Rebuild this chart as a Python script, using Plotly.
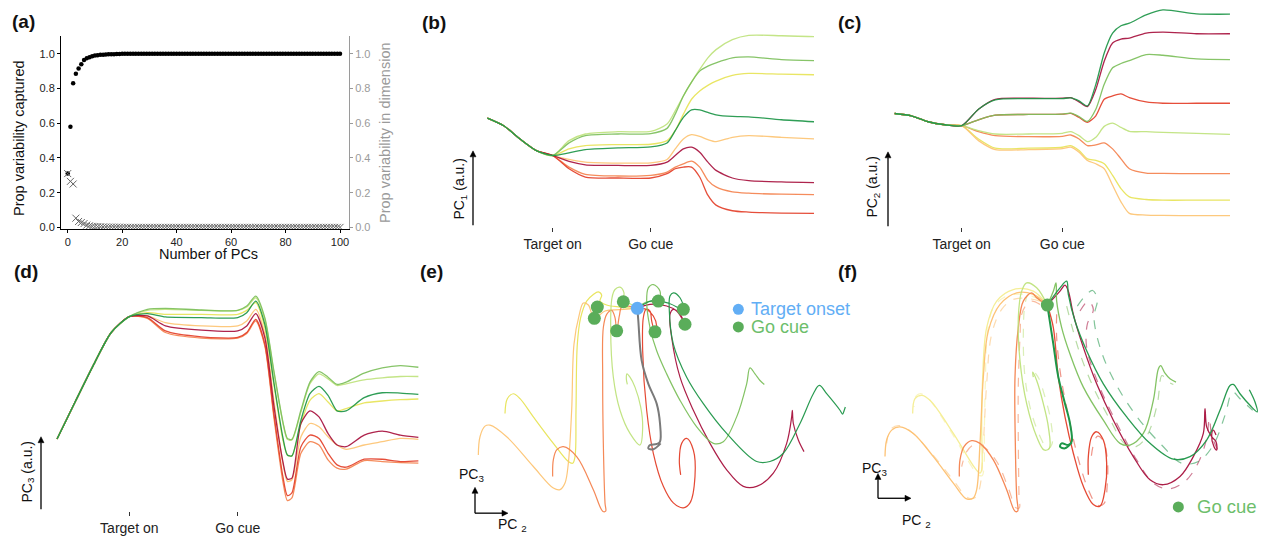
import plotly.graph_objects as go

W, H = 1262, 539
FONT = "Liberation Sans, Arial, Helvetica, sans-serif"

# ---------------- (a) variance explained ----------------
pc_index = list(range(101))
cum_var = [0.31, 0.58, 0.83, 0.885, 0.915, 0.94, 0.965, 0.974, 0.981, 0.986,
           0.99, 0.992, 0.994, 0.995, 0.996, 0.997, 0.998, 0.998, 0.999, 0.999] + [1.0] * 81
ind_var = [0.31, 0.265, 0.25, 0.053, 0.034, 0.028, 0.022, 0.013, 0.009, 0.006,
           0.005, 0.004, 0.003, 0.002, 0.002, 0.001, 0.001, 0.001, 0.001, 0.001] + [0.0] * 81
a_xticks = [0, 20, 40, 60, 80, 100]
a_yticks = [0.0, 0.2, 0.4, 0.6, 0.8, 1.0]

# ---------------- conditions / colours ----------------
CONDS = ["dark_red", "red", "orange", "light_orange", "yellow", "yellow_green", "green", "dark_green"]
COLORS = {"dark_red": "#a8123e", "red": "#e4402a", "orange": "#f5834f", "light_orange": "#fdc574",
          "yellow": "#e8e457", "yellow_green": "#bfe37d", "green": "#7dc05c", "dark_green": "#1e9648"}
COLORS_F = dict(COLORS, yellow="#f5ee92", light_orange="#fdc070")
time_ticks = [0, 600]
time_ticktext = ["Target on", "Go cue"]

# ---------------- (b) PC1 over time ----------------
b_time = [-400, -300, -200, -100, 0, 100, 200, 400, 600, 700, 750, 800, 850, 900, 950, 1000, 1100, 1200, 1400, 1600]
b_common = [343, 320, 280, 245, 230]
b_curves = {
    "yellow_green": [275, 295, 302, 303, 325, 365, 410, 452, 490, 525, 550, 580, 593, 592, 589],
    "green":        [268, 290, 295, 296, 312, 355, 410, 452, 485, 500, 510, 525, 528, 520, 517],
    "yellow":       [250, 260, 263, 264, 275, 305, 355, 400, 425, 442, 455, 472, 478, 476, 474],
    "dark_green":   [238, 248, 253, 256, 268, 305, 345, 368, 368, 360, 353, 348, 347, 338, 332],
    "light_orange": [218, 210, 207, 208, 218, 250, 280, 293, 288, 278, 272, 285, 290, 285, 280],
    "dark_red":     [212, 202, 200, 200, 210, 230, 250, 255, 240, 210, 185, 162, 154, 150, 148],
    "orange":       [195, 173, 168, 170, 180, 195, 205, 213, 195, 155, 135, 120, 116, 113, 112],
    "red":          [190, 165, 162, 162, 175, 190, 195, 195, 165, 110, 80, 63, 59, 56, 55],
}

# ---------------- (c) PC2 over time ----------------
c_time = [-400, -300, -200, -100, 0, 100, 200, 400, 600, 650, 700, 750, 800, 850, 900, 950, 1000, 1100, 1200, 1400, 1600]
c_common = [357, 350, 332, 323, 320]
c_curves = {
    "dark_green":   [370, 398, 402, 402, 404, 395, 380, 445, 540, 600, 622, 630, 655, 670, 658, 657],
    "dark_red":     [370, 400, 403, 403, 405, 392, 378, 430, 515, 570, 582, 585, 600, 603, 598, 598],
    "green":        [338, 352, 354, 355, 358, 348, 333, 370, 445, 495, 508, 517, 535, 533, 522, 520],
    "red":          [338, 352, 354, 355, 357, 345, 330, 350, 400, 410, 416, 405, 392, 388, 388, 388],
    "yellow_green": [305, 295, 295, 297, 302, 290, 272, 285, 318, 328, 315, 303, 302, 300, 297, 294],
    "orange":       [302, 290, 287, 288, 292, 280, 260, 262, 268, 250, 220, 190, 177, 176, 175, 175],
    "yellow":       [280, 252, 252, 255, 260, 245, 220, 215, 205, 170, 130, 105, 97, 95, 95, 95],
    "light_orange": [275, 248, 248, 251, 255, 240, 215, 205, 190, 140, 90, 55, 50, 49, 48, 48],
}

# ---------------- (d) PC3 over time ----------------
d_time = [-400, -300, -200, -100, 0, 100, 200, 400, 600, 650, 700, 750, 800, 850, 875, 900, 950, 1000,
          1050, 1100, 1150, 1200, 1300, 1400, 1500, 1600]
d_common = [283, 395, 505, 605, 653]
d_curves = {
    "green":        [675, 678, 673, 672, 685, 715, 650, 490, 335, 285, 282, 370, 455, 487, 470, 448, 455, 482, 498, 505, 500],
    "yellow_green": [672, 675, 672, 672, 682, 710, 645, 485, 332, 282, 280, 365, 450, 480, 465, 445, 450, 462, 468, 472, 472],
    "yellow":       [665, 660, 660, 660, 672, 695, 620, 450, 280, 235, 232, 330, 400, 420, 395, 368, 375, 392, 398, 402, 404],
    "dark_green":   [662, 652, 650, 650, 665, 700, 630, 455, 288, 235, 232, 340, 420, 442, 415, 368, 368, 408, 423, 422, 418],
    "light_orange": [655, 635, 625, 625, 640, 675, 600, 400, 210, 155, 160, 290, 330, 320, 290, 265, 252, 265, 275, 285, 282],
    "dark_red":     [655, 625, 612, 610, 625, 662, 590, 385, 215, 162, 165, 330, 368, 350, 300, 265, 260, 295, 307, 295, 288],
    "red":          [650, 610, 592, 590, 605, 645, 570, 360, 170, 112, 120, 260, 295, 285, 240, 205, 198, 222, 222, 215, 217],
    "orange":       [648, 605, 588, 588, 602, 640, 565, 350, 155, 97, 105, 240, 275, 265, 220, 195, 192, 218, 215, 212, 210],
}

# ---------------- (e) PC2-PC3 trajectories (PC2, PC3 with PC3 axis reversed) ----------------
e_target = [(652, 122)]
e_gocue = [(532, 118), (523, 152), (610, 102), (590, 190), (715, 100), (705, 193), (790, 125), (795, 170)]
e_traj = {
    "yellow": [(652, 122), (600, 118), (560, 112), (540, 100), (545, 82), (535, 72), (520, 80), (500, 100), (482, 150),
               (472, 230), (468, 430), (465, 570), (458, 590), (445, 585), (400, 530), (340, 450), (300, 395),
               (280, 380), (262, 395), (255, 440)],
    "light_orange": [(652, 122), (600, 126), (555, 130), (523, 152), (505, 112), (490, 106), (478, 140), (462, 230),
                     (455, 430), (445, 590), (435, 650), (420, 670), (400, 665), (340, 600), (260, 510), (210, 475),
                     (195, 478), (180, 510), (175, 565)],
    "orange": [(652, 122), (625, 115), (605, 118), (598, 145), (590, 190), (585, 150), (575, 128), (560, 140), (550, 180),
               (548, 330), (550, 530), (555, 710), (557, 735), (548, 735), (520, 670), (470, 570), (430, 540),
               (410, 550), (400, 580), (398, 630)],
    "yellow_green": [(652, 122), (630, 108), (610, 102), (612, 75), (600, 58), (585, 65), (576, 90), (572, 180),
                     (580, 330), (600, 430), (630, 500), (660, 535), (668, 480), (662, 420), (645, 360), (630, 330),
                     (621, 320), (619, 335), (622, 352)],
    "red": [(652, 122), (680, 125), (700, 145), (710, 175), (705, 193), (695, 160), (690, 130), (678, 125), (670, 150),
            (668, 250), (680, 430), (700, 560), (730, 660), (760, 710), (790, 725), (810, 710), (825, 630), (820, 550),
            (800, 515), (785, 530), (778, 580), (782, 625)],
    "green": [(652, 122), (680, 102), (715, 100), (720, 70), (700, 50), (685, 60), (680, 100), (690, 180), (710, 250),
              (740, 320), (780, 400), (830, 480), (880, 530), (910, 525), (950, 450), (980, 350), (990, 302),
              (1005, 320), (1020, 340), (1033, 352)],
    "dark_green": [(652, 122), (700, 98), (750, 108), (790, 125), (780, 90), (760, 75), (750, 85), (748, 130),
                   (760, 230), (800, 330), (850, 410), (920, 500), (1010, 585), (1050, 585), (1090, 560), (1140, 470),
                   (1180, 380), (1198, 355), (1220, 380), (1260, 430), (1268, 442), (1272, 432), (1276, 420)],
    "dark_red": [(652, 122), (690, 110), (740, 115), (770, 130), (790, 160), (795, 170), (780, 140), (760, 125),
                 (750, 140), (755, 210), (780, 330), (820, 430), (870, 530), (920, 610), (970, 660), (1010, 660),
                 (1060, 620), (1100, 530), (1115, 450), (1117, 430), (1120, 470), (1135, 520), (1152, 555)],
}
e_null = [(652, 122), (655, 160), (665, 280), (685, 350), (710, 410), (720, 470), (720, 525), (710, 532), (690, 535),
          (685, 545), (700, 548), (722, 530)]
e_legend = [(955, 125), (955, 178)]

# ---------------- (f) PC2-PC3 trajectories aligned to go cue ----------------
f_gocue = [(622, 112)]
f_traj = {
    "yellow": [(622, 112), (580, 70), (520, 65), (470, 100), (440, 180), (428, 330), (425, 480), (425, 610), (420, 620),
               (405, 605), (340, 500), (270, 400), (245, 385), (225, 395), (218, 440)],
    "light_orange": [(622, 112), (580, 80), (530, 75), (480, 110), (445, 190), (430, 330), (420, 530), (410, 670),
                     (400, 695), (380, 698), (340, 650), (280, 570), (220, 500), (180, 480), (155, 490), (140, 520),
                     (135, 570)],
    "orange": [(622, 112), (590, 90), (575, 75), (550, 100), (535, 180), (525, 330), (526, 530), (530, 690), (533, 735),
               (525, 735), (500, 670), (460, 580), (420, 530), (395, 522), (372, 540), (360, 580), (358, 630)],
    "yellow_green": [(622, 112), (590, 60), (560, 45), (545, 70), (535, 150), (540, 280), (560, 410), (590, 510),
                     (612, 550), (628, 545), (625, 480), (610, 410), (590, 340), (578, 315), (580, 330)],
    "red": [(622, 112), (640, 180), (655, 330), (675, 450), (700, 560), (730, 660), (760, 715), (780, 720), (795, 670),
            (800, 590), (790, 520), (770, 495), (755, 510), (745, 570), (745, 625)],
    "green": [(622, 112), (640, 70), (648, 45), (650, 100), (665, 180), (690, 260), (730, 360), (790, 460), (840, 530),
              (870, 535), (910, 500), (940, 400), (955, 305), (962, 295), (975, 318), (990, 335), (1008, 345)],
    "dark_green": [(622, 112), (660, 60), (680, 40), (685, 80), (705, 160), (740, 250), (790, 350), (860, 450),
                   (930, 530), (1000, 578), (1050, 570), (1100, 520), (1140, 430), (1170, 355), (1180, 352),
                   (1200, 380), (1230, 415), (1252, 435), (1245, 405), (1228, 368)],
    "dark_red": [(622, 112), (660, 70), (675, 52), (685, 70), (700, 140), (730, 240), (770, 350), (820, 460), (880, 570),
                 (930, 640), (970, 655), (1020, 630), (1060, 570), (1090, 500), (1095, 425), (1100, 480), (1115, 510),
                 (1128, 525), (1130, 550), (1122, 540), (1115, 505), (1120, 490), (1128, 505)],
}
f_null = [(622, 112), (640, 230), (655, 330), (675, 410), (690, 470), (695, 525), (685, 535), (665, 530), (660, 540),
          (675, 545), (695, 528)]
f_dashed = {
    "yellow": [(600, 95), (555, 80), (500, 85), (460, 120), (442, 200), (436, 350), (433, 500), (432, 600), (426, 628),
               (410, 622), (395, 600), (330, 490), (265, 395), (240, 380), (225, 392), (222, 420)],
    "light_orange": [(600, 100), (560, 92), (520, 95), (485, 125), (455, 200), (440, 350), (430, 530), (420, 660),
                     (408, 692), (385, 695), (335, 635), (270, 555), (210, 492), (175, 476), (150, 490), (140, 530)],
    "orange": [(600, 110), (575, 100), (560, 110), (545, 140), (540, 210), (535, 350), (535, 530), (537, 690),
               (538, 725), (528, 725), (505, 665), (470, 585), (430, 540), (400, 535), (380, 555), (365, 600)],
    "yellow_green": [(610, 110), (585, 85), (565, 80), (555, 110), (550, 200), (555, 330), (575, 440), (605, 520),
                     (622, 548), (636, 532), (632, 460), (615, 390), (597, 335), (586, 318)],
    "red": [(650, 140), (650, 210), (663, 330), (686, 450), (713, 570), (745, 670), (772, 717), (792, 712), (802, 650),
            (802, 580), (790, 522), (773, 508), (760, 535), (752, 590)],
    "green": [(680, 115), (698, 185), (722, 265), (762, 365), (812, 462), (855, 532), (888, 540), (922, 505), (952, 410),
              (966, 325), (982, 342), (1000, 352)],
    "dark_green": [(712, 115), (735, 85), (758, 68), (772, 95), (762, 150), (785, 255), (830, 355), (895, 455),
                   (965, 535), (1025, 590), (1075, 585), (1120, 535), (1155, 445), (1178, 375), (1200, 395), (1238, 430)],
    "dark_red": [(720, 130), (745, 100), (760, 125), (742, 170), (740, 240), (775, 350), (828, 465), (890, 580),
                 (940, 650), (985, 668), (1035, 645), (1075, 588), (1100, 515), (1108, 455), (1115, 505), (1132, 548)],
}
f_legend = [(1015, 722)]

# ======================================================================
fig = go.Figure()


def X(pts):
    return [p[0] for p in pts]


def Y(pts):
    return [p[1] for p in pts]


# (a)
fig.add_trace(go.Scatter(x=pc_index, y=ind_var, mode="markers", xaxis="x", yaxis="y2",
                         marker=dict(symbol="x-thin", size=7, color="#666666", line=dict(width=1, color="#666666"))))
fig.add_trace(go.Scatter(x=pc_index, y=cum_var, mode="markers", xaxis="x", yaxis="y",
                         marker=dict(symbol="circle", size=4.5, color="black")))

DRAW_ORDER = ["yellow", "light_orange", "orange", "red", "dark_red", "yellow_green", "green", "dark_green"]


def time_panel(times, common, curves, xa, ya):
    for name in DRAW_ORDER:
        fig.add_trace(go.Scatter(x=times, y=common + curves[name], mode="lines", xaxis=xa, yaxis=ya,
                                 opacity=0.92,
                                 line=dict(color=COLORS[name], width=1.3, shape="spline", smoothing=0.7)))


time_panel(b_time, b_common, b_curves, "x3", "y3")
time_panel(c_time, c_common, c_curves, "x4", "y4")
time_panel(d_time, d_common, d_curves, "x5", "y5")

# (e)
for name in DRAW_ORDER:
    pts = e_traj[name]
    fig.add_trace(go.Scatter(x=X(pts), y=Y(pts), mode="lines", xaxis="x6", yaxis="y6", opacity=0.95,
                             line=dict(color=COLORS[name], width=1.2, shape="spline", smoothing=1.0)))
fig.add_trace(go.Scatter(x=X(e_null), y=Y(e_null), mode="lines", xaxis="x6", yaxis="y6",
                         line=dict(color="#7a7a7a", width=2, shape="spline", smoothing=1.0)))
fig.add_trace(go.Scatter(x=X(e_gocue), y=Y(e_gocue), mode="markers", xaxis="x6", yaxis="y6",
                         marker=dict(size=13, color="#5aad5a")))
fig.add_trace(go.Scatter(x=X(e_target), y=Y(e_target), mode="markers", xaxis="x6", yaxis="y6",
                         marker=dict(size=13, color="#62aef5")))
fig.add_trace(go.Scatter(x=X(e_legend), y=Y(e_legend), mode="markers", xaxis="x6", yaxis="y6",
                         marker=dict(size=11, color=["#62aef5", "#5aad5a"])))

# (f)
for name in DRAW_ORDER:
    pts = f_dashed[name]
    fig.add_trace(go.Scatter(x=X(pts), y=Y(pts), mode="lines", xaxis="x7", yaxis="y7", opacity=0.55,
                             line=dict(color=COLORS_F[name], width=1.2, dash="dash", shape="spline", smoothing=1.0)))
for name in DRAW_ORDER:
    pts = f_traj[name]
    fig.add_trace(go.Scatter(x=X(pts), y=Y(pts), mode="lines", xaxis="x7", yaxis="y7", opacity=0.95,
                             line=dict(color=COLORS_F[name], width=1.3, shape="spline", smoothing=1.0)))
fig.add_trace(go.Scatter(x=X(f_null), y=Y(f_null), mode="lines", xaxis="x7", yaxis="y7",
                         line=dict(color=COLORS["dark_green"], width=2, shape="spline", smoothing=1.0)))
fig.add_trace(go.Scatter(x=X(f_gocue), y=Y(f_gocue), mode="markers", xaxis="x7", yaxis="y7",
                         marker=dict(size=13, color="#5aad5a")))
fig.add_trace(go.Scatter(x=X(f_legend), y=Y(f_legend), mode="markers", xaxis="x7", yaxis="y7",
                         marker=dict(size=11, color="#5aad5a")))


# ---------------- layout helpers ----------------
def xd(a, b):
    return [a / W, b / W]


def yd(top, bottom):
    return [1 - bottom / H, 1 - top / H]


def trange(xl, xr, tgt_px, go_px):
    s = (go_px - tgt_px) / 600.0
    return [(xl - tgt_px) / s, (xr - tgt_px) / s]


def time_xaxis(xl, xr, tgt_px, go_px, anchor):
    return dict(domain=xd(xl, xr), range=trange(xl, xr, tgt_px, go_px), anchor=anchor, showline=False,
                showgrid=False, zeroline=False, ticks="outside", ticklen=4, tickcolor="#333", tickwidth=1,
                tickvals=time_ticks, ticktext=time_ticktext, tickfont=dict(size=14, color="#222"), fixedrange=True)


def hidden(dom, rng, anchor):
    return dict(domain=dom, range=rng, anchor=anchor, visible=False, fixedrange=True)


ann = []
shapes = []


def text(t, xp, yp, size, color="#222", xanchor="center", angle=0, bold=False):
    if bold:
        t = "<b>" + t + "</b>"
    ann.append(dict(text=t, x=xp / W, y=1 - yp / H, xref="paper", yref="paper", showarrow=False,
                    xanchor=xanchor, yanchor="middle", textangle=angle,
                    font=dict(size=size, color=color, family=FONT)))


def arrow(tx, ty, hx, hy, head=6.0, half=3.0):
    """Arrow drawn with shapes: tail (tx, ty) -> head (hx, hy), pixel positions."""
    dx, dy = hx - tx, hy - ty
    n = (dx * dx + dy * dy) ** 0.5
    ux, uy = dx / n, dy / n
    bx, by = hx - ux * head, hy - uy * head
    px, py = -uy, ux

    def P(x, y):
        return x / W, 1 - y / H

    x0, y0 = P(tx, ty)
    x1, y1 = P(bx, by)
    shapes.append(dict(type="line", xref="paper", yref="paper", x0=x0, y0=y0, x1=x1, y1=y1,
                       line=dict(color="black", width=1.3)))
    a = P(hx, hy)
    b = P(bx + px * half, by + py * half)
    c = P(bx - px * half, by - py * half)
    path = "M %f,%f L %f,%f L %f,%f Z" % (a[0], a[1], b[0], b[1], c[0], c[1])
    shapes.append(dict(type="path", xref="paper", yref="paper", path=path, fillcolor="black",
                       line=dict(color="black", width=0.5)))


# panel labels
for lab, xp, yp in [("(a)", 10, 22), ("(b)", 420, 23), ("(c)", 836, 23), ("(d)", 12, 274), ("(e)", 418, 274),
                    ("(f)", 836, 274)]:
    text(lab, xp, yp, 19, "#111", xanchor="left", bold=True)

# (a) titles
text("Prop variability captured", 19, 139, 14.5, "#111", angle=-90)
text("Prop variability in dimension", 385, 134, 14.5, "#9a9a9a", angle=-90)
text("Number of PCs", 208, 256, 14.5, "#111")

# time-panel arrows and labels
arrow(473, 227, 473, 152)
text("PC<sub>1</sub> (a.u.)", 460, 191, 14, "#111", angle=-90)
arrow(888, 228, 888, 153)
text("PC<sub>2</sub> (a.u.)", 873, 189, 14, "#111", angle=-90)
arrow(41, 513, 41, 440)
text("PC<sub>3</sub> (a.u.)", 28, 476, 14, "#111", angle=-90)

# (e) and (f) axes arrows
arrow(475, 517, 475, 491)
arrow(475, 517, 508, 517)
text("PC<sub>3</sub>", 471, 479, 14, "#111")
text("PC <sub>2</sub>", 512, 529, 14, "#111")
arrow(878, 502, 878, 477)
arrow(878, 502, 911, 502)
text("PC<sub>3</sub>", 875, 473, 14, "#111")
text("PC <sub>2</sub>", 916, 525, 14, "#111")

# legends
text("Target onset", 749, 311, 18, "#62aef5", xanchor="left")
text("Go cue", 749, 329.5, 18, "#6dbe6b", xanchor="left")
text("Go cue", 1195, 510, 18.5, "#6dbe6b", xanchor="left")

layout = dict(
    width=W, height=H, margin=dict(l=0, r=0, t=0, b=0, pad=0), paper_bgcolor="white",
    plot_bgcolor="rgba(0,0,0,0)",
    showlegend=False, font=dict(family=FONT, size=11, color="#222"), annotations=ann, shapes=shapes,
    xaxis=dict(domain=xd(61, 349), range=[-2.46, 103.3], anchor="y", showline=True, linecolor="black", linewidth=1,
               ticks="outside", ticklen=3, tickcolor="black", tickvals=a_xticks, tickfont=dict(size=11, color="#222"),
               showgrid=False, zeroline=False, fixedrange=True),
    yaxis=dict(domain=yd(36.4, 231), range=[-0.011, 1.102], anchor="x", showline=True, linecolor="black",
               linewidth=1, ticks="outside", ticklen=3, tickcolor="black", tickvals=a_yticks, tickformat=".1f",
               tickfont=dict(size=11, color="#222"), showgrid=False, zeroline=False, fixedrange=True),
    yaxis2=dict(overlaying="y", side="right", anchor="x", range=[-0.011, 1.102], showline=True,
                linecolor="#9a9a9a", linewidth=1, ticks="outside", ticklen=3, tickcolor="#9a9a9a",
                tickvals=a_yticks, tickformat=".1f", tickfont=dict(size=11, color="#9a9a9a"),
                showgrid=False, zeroline=False, fixedrange=True),
    xaxis3=time_xaxis(470, 820, 552.7, 650.7, "y3"),
    yaxis3=hidden(yd(5, 229), [13, 685], "x3"),
    xaxis4=time_xaxis(885, 1235, 961.7, 1062.3, "y4"),
    yaxis4=hidden(yd(5, 229), [13, 685], "x4"),
    xaxis5=time_xaxis(50, 425, 129.3, 237.7, "y5"),
    yaxis5=hidden(yd(285, 515), [65, 755], "x5"),
    xaxis6=hidden(xd(420, 850), [0, 1290], "y6"),
    yaxis6=hidden(yd(270, 539), [807, 0], "x6"),
    xaxis7=hidden(xd(840, 1262), [0, 1266], "y7"),
    yaxis7=hidden(yd(270, 539), [807, 0], "x7"),
)
fig.update_layout(**layout)
fig.write_html("out.html", config={"displayModeBar": False},
               post_script="document.body.style.margin='0px';document.body.style.overflow='hidden';")
